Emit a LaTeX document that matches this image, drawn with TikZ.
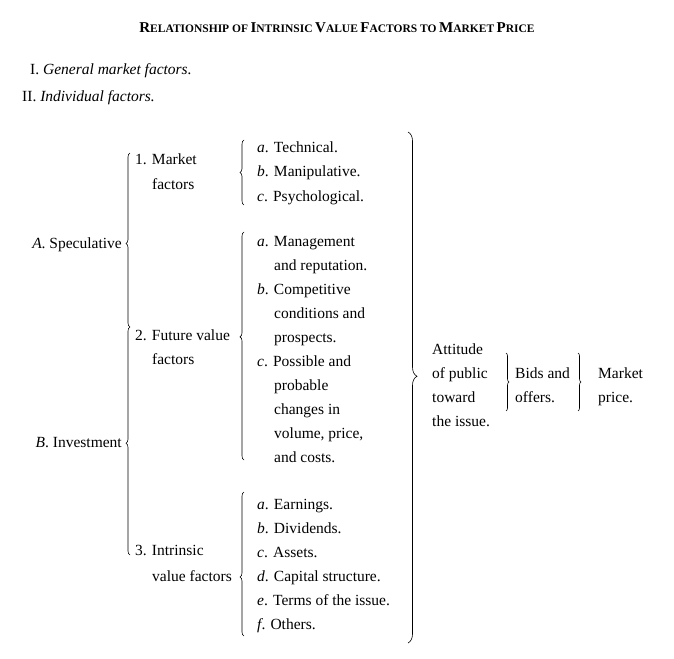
\documentclass[tikz,border=0pt]{standalone}
\usepackage{fontspec}
\setmainfont{Liberation Serif}
\usetikzlibrary{decorations.pathreplacing}
\newcommand{\SC}[2]{{\fontsize{15}{18}\selectfont #1}{\fontsize{11.5}{14}\selectfont #2}}
\begin{document}
\begin{tikzpicture}[x=1pt,y=1pt,
  txt/.style={anchor=base west,inner sep=0pt,font=\fontsize{15.5}{18}\selectfont},
  br/.style={decorate,decoration={brace,amplitude=#1},line width=0.6pt},
  br/.default=5pt]
\useasboundingbox (0,0) rectangle (674,-658);
\node[anchor=base,inner sep=0pt,font=\bfseries] (title) at (337,-33)
 {\SC{R}{ELATIONSHIP OF} \SC{I}{NTRINSIC} \SC{V}{ALUE} \SC{F}{ACTORS TO} \SC{M}{ARKET} \SC{P}{RICE}};
\node[txt] (g1) at (30,-75) {I. \textit{General market factors.}};
\node[txt] (g2) at (22,-102) {II. \textit{Individual factors.}};
\node[txt,anchor=base east] (A) at (122,-248) {\textit{A}. Speculative};
\node[txt,anchor=base east] (B) at (122,-447) {\textit{B}. Investment};
\draw[br=4pt,decoration={aspect=0.48}] (130,-327) -- (130,-153);
\draw[br=4pt,decoration={aspect=0.49}] (130,-555) -- (130,-327);
\node[txt] (m1) at (135,-164) {1. Market};
\node[txt] (m2) at (152,-189) {factors};
\node[txt] (f1) at (135,-340) {2. Future value};
\node[txt] (f2) at (152,-364) {factors};
\node[txt] (i1) at (135,-555) {3. Intrinsic};
\node[txt] (i2) at (152,-581) {value factors};
\draw[br=4pt,decoration={aspect=0.5}] (244,-205) -- (244,-140);
\draw[br=4pt,decoration={aspect=0.54}] (244,-460) -- (244,-232);
\draw[br=4pt,decoration={aspect=0.41}] (244,-636) -- (244,-492);
\foreach \t [count=\i] in {{\textit{a}. Technical.},{\textit{b}. Manipulative.},{\textit{c}. Psychological.}}
  \node[txt] (p\i) at (257,-152-24.5*\i+24.5) {\t};
\node[txt] (q1) at (257,-246) {\textit{a}. Management};
\node[txt] (q2) at (274,-270) {and reputation.};
\node[txt] (q3) at (257,-294) {\textit{b}. Competitive};
\node[txt] (q4) at (274,-318) {conditions and};
\node[txt] (q5) at (274,-342) {prospects.};
\node[txt] (q6) at (257,-366) {\textit{c}. Possible and};
\node[txt] (q7) at (274,-390) {probable};
\node[txt] (q8) at (274,-414) {changes in};
\node[txt] (q9) at (274,-438) {volume, price,};
\node[txt] (q10) at (274,-462) {and costs.};
\foreach \t [count=\i] in {{\textit{a}. Earnings.},{\textit{b}. Dividends.},{\textit{c}. Assets.},{\textit{d}. Capital structure.},{\textit{e}. Terms of the issue.},{\textit{f}. Others.}}
  \node[txt] (r\i) at (257,-509-24*\i+24) {\t};
\draw[br=9pt,decoration={aspect=0.478}] (408,-132) -- (408,-643);
\node[txt] (t1) at (432,-354) {Attitude};
\node[txt] (t2) at (432,-378) {of public};
\node[txt] (t3) at (432,-402) {toward};
\node[txt] (t4) at (432,-426) {the issue.};
\draw[br=3pt,decoration={aspect=0.5}] (506,-353) -- (506,-411);
\node[txt] (b1) at (515,-378) {Bids and};
\node[txt] (b2) at (515,-402) {offers.};
\draw[br=3pt,decoration={aspect=0.5}] (578,-353) -- (578,-411);
\node[txt] (mp1) at (598,-378) {Market};
\node[txt] (mp2) at (598,-402) {price.};
\end{tikzpicture}
\end{document}
